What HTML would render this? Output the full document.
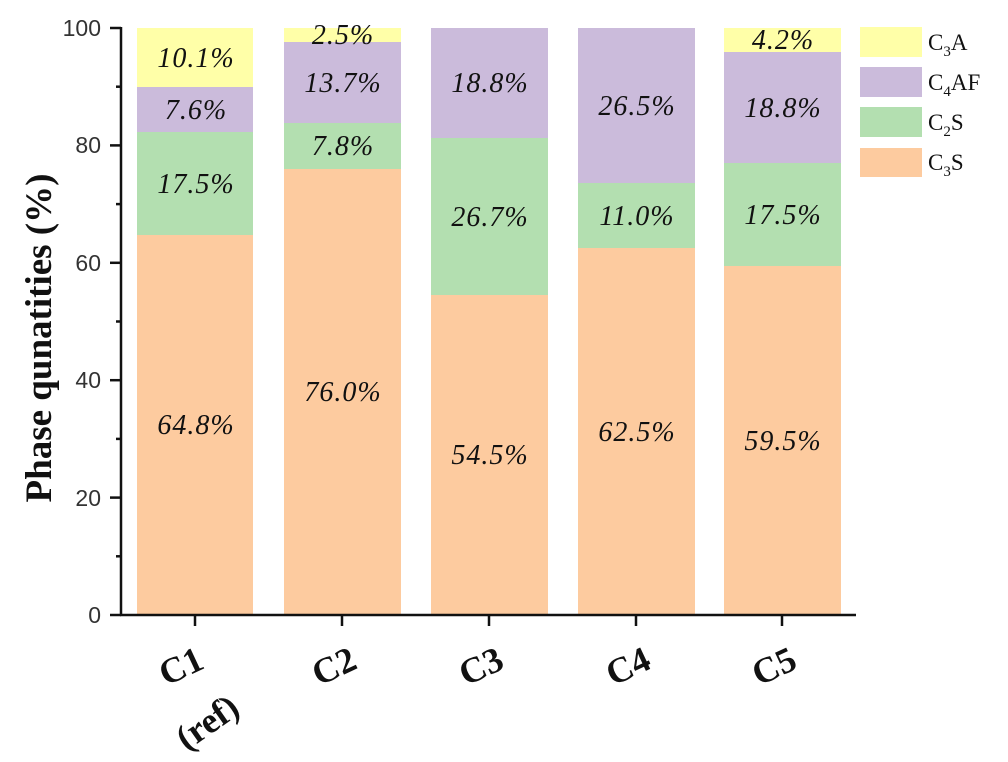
<!DOCTYPE html>
<html><head><meta charset="utf-8"><style>body{margin:0;background:#fff}svg{display:block}</style></head><body>
<svg width="1008" height="762" viewBox="0 0 1008 762" xmlns="http://www.w3.org/2000/svg">
<g font-family="Liberation Serif, serif" font-style="italic" font-size="28" letter-spacing="1" fill="#111" text-anchor="middle">
<rect x="137" y="235" width="116" height="380" fill="#fdcb9f"/>
<rect x="137" y="132" width="116" height="103" fill="#b3dfb0"/>
<rect x="137" y="87" width="116" height="45" fill="#cbbbdb"/>
<rect x="137" y="28" width="116" height="59" fill="#ffffa8"/>
<text x="196" y="434">64.8%</text><text x="196" y="193">17.5%</text><text x="196" y="119">7.6%</text><text x="196" y="67">10.1%</text>
<rect x="284" y="169" width="117" height="446" fill="#fdcb9f"/>
<rect x="284" y="123" width="117" height="46" fill="#b3dfb0"/>
<rect x="284" y="42" width="117" height="81" fill="#cbbbdb"/>
<rect x="284" y="28" width="117" height="14" fill="#ffffa8"/>
<text x="343" y="401">76.0%</text><text x="343" y="155">7.8%</text><text x="343" y="92">13.7%</text><text x="343" y="44">2.5%</text>
<rect x="431" y="295" width="117" height="320" fill="#fdcb9f"/>
<rect x="431" y="138" width="117" height="157" fill="#b3dfb0"/>
<rect x="431" y="28" width="117" height="110" fill="#cbbbdb"/>
<text x="490" y="464">54.5%</text><text x="490" y="226">26.7%</text><text x="490" y="92">18.8%</text>
<rect x="578" y="248" width="117" height="367" fill="#fdcb9f"/>
<rect x="578" y="183" width="117" height="65" fill="#b3dfb0"/>
<rect x="578" y="28" width="117" height="155" fill="#cbbbdb"/>
<text x="637" y="441">62.5%</text><text x="637" y="225">11.0%</text><text x="637" y="115">26.5%</text>
<rect x="724" y="266" width="117" height="349" fill="#fdcb9f"/>
<rect x="724" y="163" width="117" height="103" fill="#b3dfb0"/>
<rect x="724" y="52" width="117" height="111" fill="#cbbbdb"/>
<rect x="724" y="28" width="117" height="24" fill="#ffffa8"/>
<text x="783" y="450">59.5%</text><text x="783" y="224">17.5%</text><text x="783" y="117">18.8%</text><text x="783" y="49">4.2%</text>
</g>
<g stroke="#111" stroke-width="2.5" fill="none">
<line x1="121" y1="27" x2="121" y2="616"/>
<line x1="120" y1="615" x2="856" y2="615"/>
<line x1="110" y1="615" x2="121" y2="615"/><line x1="110" y1="497.6" x2="121" y2="497.6"/><line x1="110" y1="380.2" x2="121" y2="380.2"/><line x1="110" y1="262.8" x2="121" y2="262.8"/><line x1="110" y1="145.4" x2="121" y2="145.4"/><line x1="110" y1="28" x2="121" y2="28"/>
<line x1="116" y1="556.3" x2="121" y2="556.3"/><line x1="116" y1="438.9" x2="121" y2="438.9"/><line x1="116" y1="321.5" x2="121" y2="321.5"/><line x1="116" y1="204.1" x2="121" y2="204.1"/><line x1="116" y1="86.7" x2="121" y2="86.7"/>
<line x1="195" y1="615" x2="195" y2="626"/><line x1="342" y1="615" x2="342" y2="626"/><line x1="489" y1="615" x2="489" y2="626"/><line x1="636" y1="615" x2="636" y2="626"/><line x1="782" y1="615" x2="782" y2="626"/>
</g>
<g font-family="Liberation Sans, sans-serif" font-size="23" fill="#333" text-anchor="end">
<text x="101" y="623">0</text><text x="101" y="506">20</text><text x="101" y="388">40</text><text x="101" y="271">60</text><text x="101" y="153">80</text><text x="101" y="36">100</text>
</g>
<text transform="translate(51,338) rotate(-90)" font-family="Liberation Serif, serif" font-weight="bold" font-size="37" text-anchor="middle" fill="#111">Phase qunatities (%)</text>
<g font-family="Liberation Serif, serif" font-weight="bold" font-size="36" fill="#111" text-anchor="middle">
<text transform="translate(186,677) rotate(-25)">C1</text>
<text transform="translate(214,732) rotate(-35)">(ref)</text>
<text transform="translate(339,677) rotate(-25)">C2</text>
<text transform="translate(486,677) rotate(-25)">C3</text>
<text transform="translate(633,677) rotate(-25)">C4</text>
<text transform="translate(779,677) rotate(-25)">C5</text>
</g>
<rect x="860" y="27" width="62" height="30" fill="#ffffa8"/>
<rect x="860" y="67" width="62" height="30" fill="#cbbbdb"/>
<rect x="860" y="107" width="62" height="30" fill="#b3dfb0"/>
<rect x="860" y="148" width="62" height="29" fill="#fdcb9f"/>
<g font-family="Liberation Serif, serif" font-size="23" fill="#111">
<text x="928" y="50">C<tspan font-size="15" dy="6">3</tspan><tspan dy="-6">A</tspan></text>
<text x="928" y="90">C<tspan font-size="15" dy="6">4</tspan><tspan dy="-6">AF</tspan></text>
<text x="928" y="130">C<tspan font-size="15" dy="6">2</tspan><tspan dy="-6">S</tspan></text>
<text x="928" y="170">C<tspan font-size="15" dy="6">3</tspan><tspan dy="-6">S</tspan></text>
</g>
</svg>
</body></html>
